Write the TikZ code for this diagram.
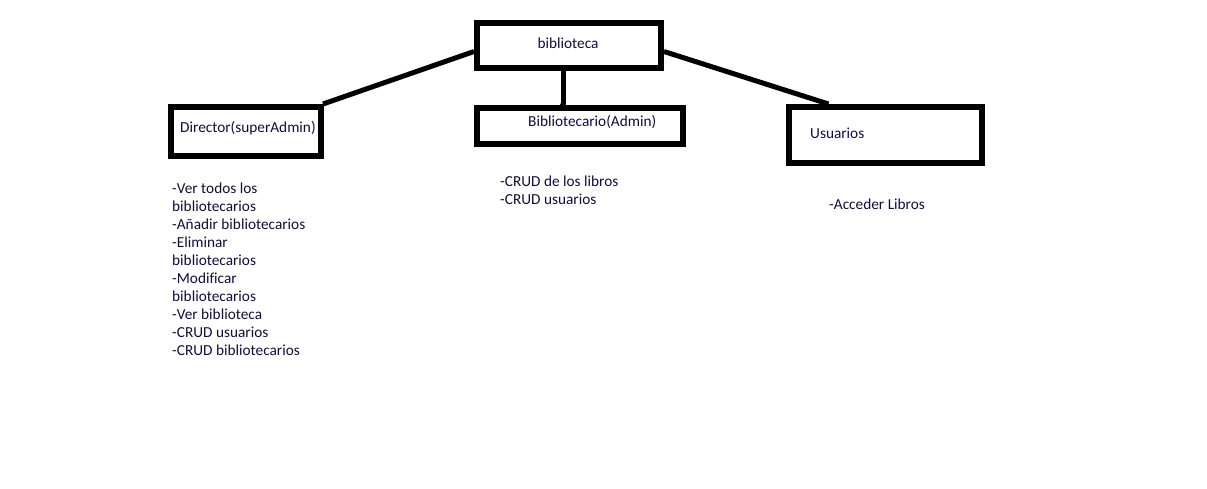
\documentclass[tikz,border=0pt]{standalone}
\usepackage{fontspec}
\setmainfont{Carlito}[Ligatures=NoCommon]
\definecolor{ink}{RGB}{15,15,55}

\begin{document}
\begin{tikzpicture}[x=1pt, y=-1pt, font=\fontsize{15.3}{18}\selectfont]
    \tikzstyle{box} = [rectangle, draw=black, line width=6pt, inner sep=0pt]
    \tikzstyle{link} = [draw=black, line width=5pt]
    \tikzstyle{label} = [text=ink, inner sep=0pt]
    \tikzstyle{list} = [text=ink, inner sep=0pt, align=left, anchor=north west]

    \useasboundingbox (0,0) rectangle (1207,488);

    % Boxes
    \node [box, minimum width=184pt, minimum height=45pt] (bib) at (569,45.5) {};
    \node [box, minimum width=150pt, minimum height=49pt] (director) at (246,131.5) {};
    \node [box, minimum width=206pt, minimum height=36pt] (admin) at (580,126) {};
    \node [box, minimum width=193pt, minimum height=56pt] (users) at (885.5,135) {};

    % Box texts
    \node [label] (bibtext) at (568,43) {biblioteca};
    \node [label, anchor=west] (directortext) at (180,128) {Director(superAdmin)};
    \node [label, anchor=west] (admintext) at (528,122) {Bibliotecario(Admin)};
    \node [label, anchor=west] (userstext) at (810,133) {Usuarios};

    % Permissions
    \node [list] (directorlist) at (172,182.5) {-Ver todos los\\bibliotecarios\\-Añadir bibliotecarios\\-Eliminar\\bibliotecarios\\-Modificar\\bibliotecarios\\-Ver biblioteca\\-CRUD usuarios\\-CRUD bibliotecarios};
    \node [list] (adminlist) at (500,175.5) {-CRUD de los libros\\-CRUD usuarios};
    \node [list] (userslist) at (829,198.5) {-Acceder Libros};

    % Connections
    \draw [link] ([yshift=-6pt]bib.west) -- ([xshift=-1pt]director.north east);
    \draw [link] ([yshift=-6pt]bib.east) -- ([xshift=-57pt]users.north);
    \draw [link] ([xshift=-6pt]bib.south) -- ([xshift=-17pt]admin.north);
    \fill (admin.north) ++(-17,0) circle (3pt);
\end{tikzpicture}
\end{document}
